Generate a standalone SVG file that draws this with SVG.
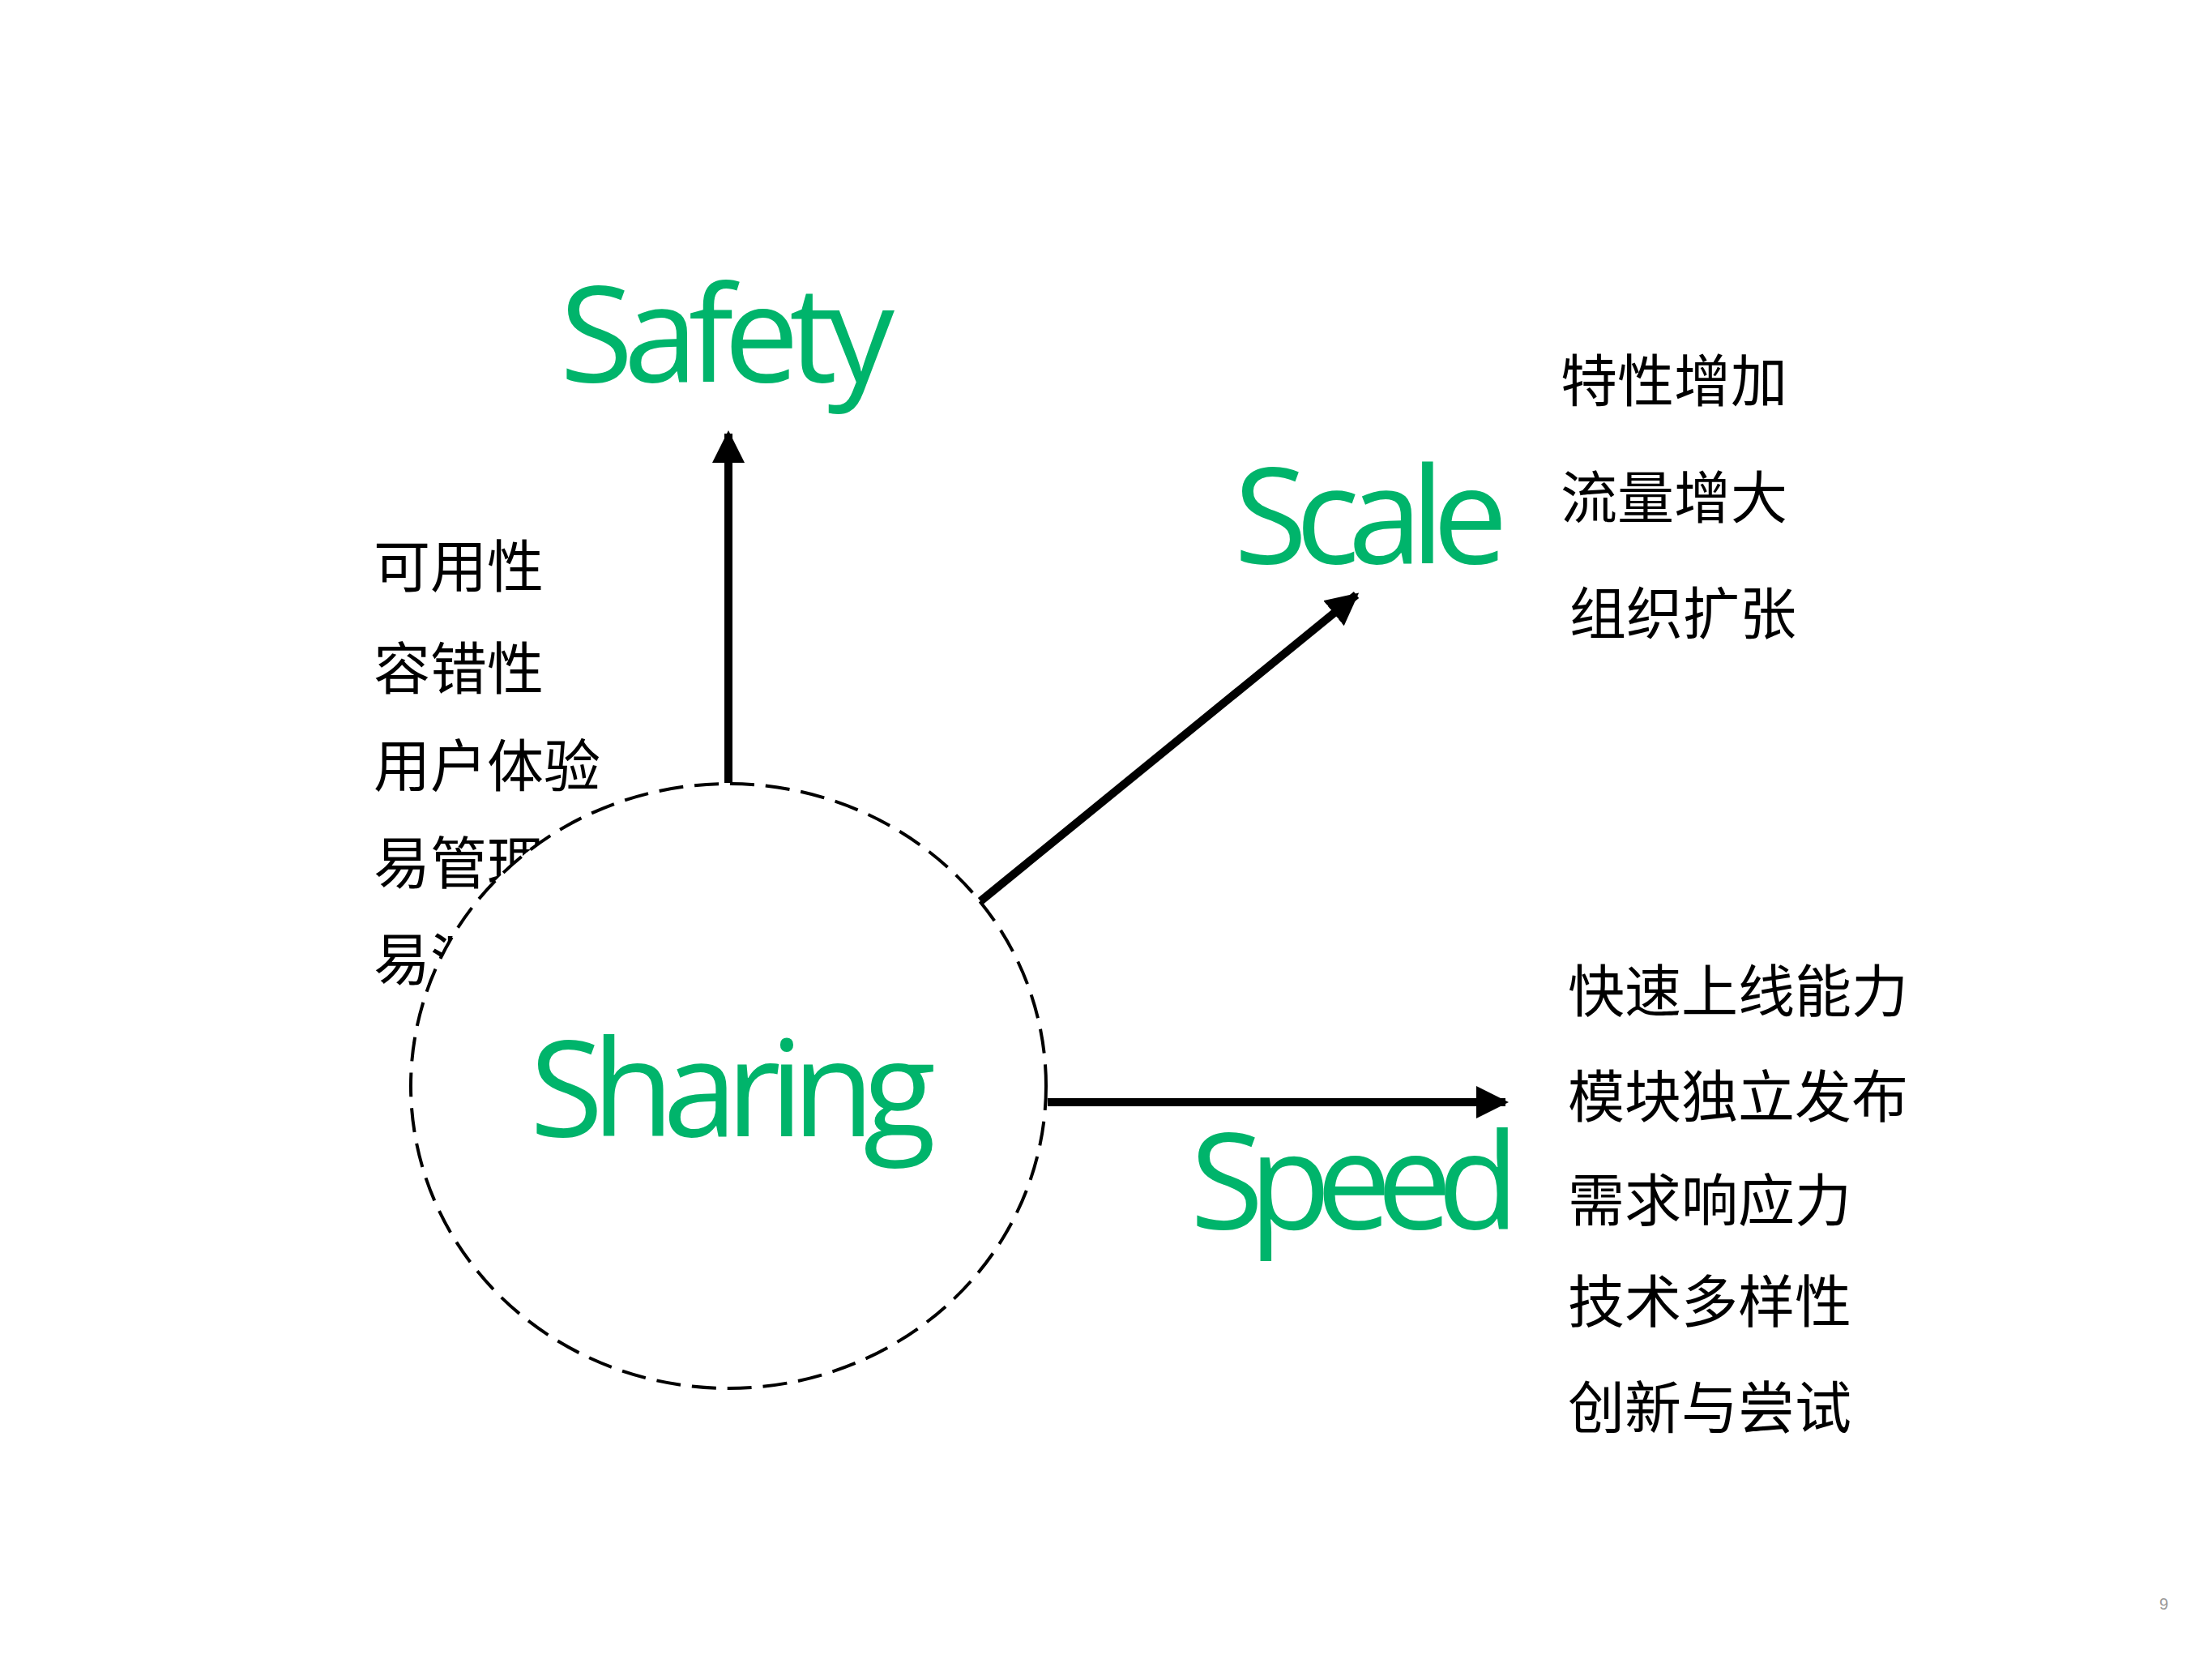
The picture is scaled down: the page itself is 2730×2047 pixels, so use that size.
<svg xmlns="http://www.w3.org/2000/svg" width="2730" height="2047" viewBox="0 0 2730 2047">
<style>
.g{fill:#00b46b;font-family:"Open Sans","Liberation Sans",sans-serif;font-size:165px}
.c{fill:#000;font-family:"Noto Sans CJK SC",sans-serif;font-size:70px}
.l{stroke:#000;stroke-width:10;fill:none}
</style>
<defs><marker id="a" viewBox="0 0 10 10" refX="9" refY="5" markerWidth="4" markerHeight="4" orient="auto" markerUnits="strokeWidth"><path d="M0,0L10,5L0,10z" fill="#000"/></marker></defs>
<rect width="2730" height="2047" fill="#fff"/>
<g id="safety-list">
<text class="c" x="461" y="725">可用性</text>
<text class="c" x="461" y="851">容错性</text>
<text class="c" x="461" y="971">用户体验</text>
<text class="c" x="461" y="1091">易管理</text>
<text class="c" x="461" y="1210">易测试</text>
</g>
<g id="connectors">
<line class="l" x1="899" y1="966" x2="899" y2="535" marker-end="url(#a)"/>
<line class="l" x1="1210" y1="1112" x2="1674" y2="734" marker-end="url(#a)"/>
<line class="l" x1="1293" y1="1360" x2="1858" y2="1360" marker-end="url(#a)"/>
</g>
<g id="sharing">
<ellipse cx="899" cy="1340" rx="392" ry="373" fill="#fff" stroke="#000" stroke-width="4" stroke-dasharray="30,14"/>
<text class="g" x="654" y="1402" textLength="501">Sharing</text>
</g>
<g id="safety"><text class="g" x="691" y="471" textLength="413">Safety</text></g>
<g id="scale"><text class="g" x="1523" y="695" textLength="338">Scale</text>
<text class="c" x="1926" y="496">特性增加</text>
<text class="c" x="1926" y="640">流量增大</text>
<text class="c" x="1937" y="783">组织扩张</text>
</g>
<g id="speed"><text class="g" x="1469" y="1516" textLength="406">Speed</text>
<text class="c" x="1935" y="1249">快速上线能力</text>
<text class="c" x="1935" y="1379">模块独立发布</text>
<text class="c" x="1935" y="1507">需求响应力</text>
<text class="c" x="1935" y="1632">技术多样性</text>
<text class="c" x="1935" y="1763">创新与尝试</text>
</g>
<text x="2665" y="1986" font-family="Liberation Sans,sans-serif" font-size="20" fill="#999">9</text>
</svg>
